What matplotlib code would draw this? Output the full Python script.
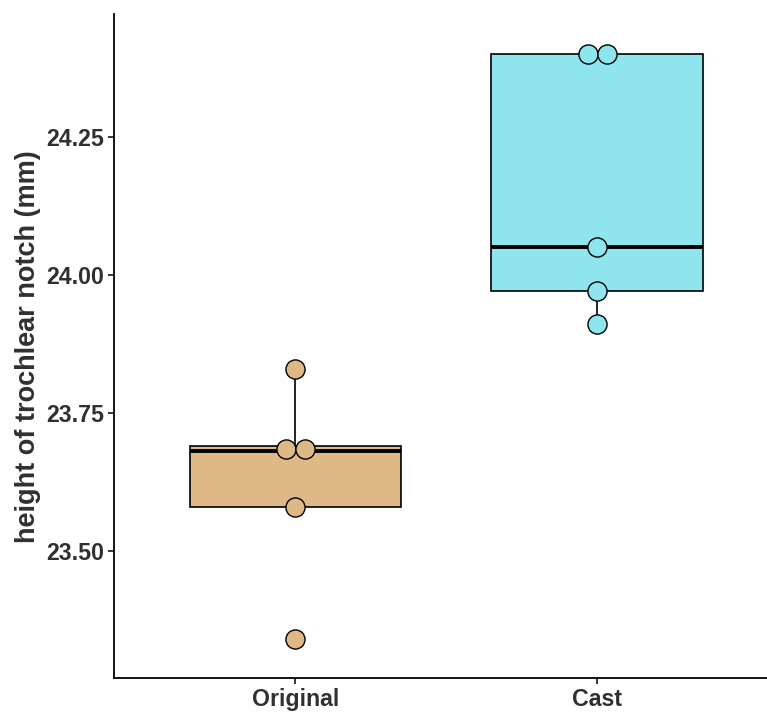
import matplotlib
matplotlib.use("Agg")
import matplotlib.pyplot as plt
import numpy as np


GROUPS = ["Original", "Cast"]
ORIGINAL = [23.34, 23.58, 23.68, 23.69, 23.83]
CAST = [23.91, 23.97, 24.05, 24.40, 24.40]
FILLS = {"Original": "#DEB887", "Cast": "#8EE5EE"}
Y_TICKS = [23.50, 23.75, 24.00, 24.25]
Y_LABEL = "height of trochlear notch (mm)"

TEXT_COLOR = "#303030"
BIN_WIDTH = 0.02
DOT_STEP = 0.064  # one dot diameter in x data units


def dot_positions(values, center):
    # crude dotplot: bin close values, stack them side by side at the bin mean
    vals = sorted(values)
    bins = []
    for v in vals:
        if bins and v - bins[-1][0] < BIN_WIDTH:
            bins[-1].append(v)
        else:
            bins.append([v])
    xs, ys = [], []
    for b in bins:
        n = len(b)
        y = float(np.mean(b))
        for i in range(n):
            xs.append(center + (i - (n - 1) / 2) * DOT_STEP)
            ys.append(y)
    return xs, ys


plt.rcParams["font.family"] = ["Liberation Sans", "DejaVu Sans"]
plt.rcParams["font.weight"] = "bold"

fig = plt.figure(figsize=(7.67, 7.14), dpi=100)
ax = fig.add_axes([114 / 767, 0.050, 653 / 767, 0.930])

data = [ORIGINAL, CAST]
positions = np.arange(1, len(GROUPS) + 1)

bp = ax.boxplot(
    data,
    positions=positions,
    widths=0.7,
    whis=1.5,
    patch_artist=True,
    showfliers=False,
    showcaps=False,
    zorder=2,
    boxprops=dict(edgecolor="black", linewidth=1.2),
    whiskerprops=dict(color="black", linewidth=1.2),
    medianprops=dict(color="black", linewidth=2.8, solid_capstyle="butt"),
)
for patch, name in zip(bp["boxes"], GROUPS):
    patch.set_facecolor(FILLS[name])

for pos, vals, name in zip(positions, data, GROUPS):
    xs, ys = dot_positions(vals, pos)
    ax.scatter(xs, ys, s=190, facecolor=FILLS[name], edgecolor="black",
               linewidth=1.0, zorder=3)

ax.set_xlim(0.4, 0.4 + 653 / 302)
ax.set_ylim(23.269, 24.472)
ax.set_xticks(positions)
ax.set_xticklabels(GROUPS)
ax.set_yticks(Y_TICKS)
ax.set_yticklabels([f"{t:.2f}" for t in Y_TICKS])
ax.set_ylabel(Y_LABEL, fontsize=19.5, fontweight="bold", color=TEXT_COLOR, labelpad=4)

ax.tick_params(axis="both", labelsize=16.7, colors=TEXT_COLOR, length=4, width=1.1,
               pad=3)
ax.tick_params(axis="both", color="black")
for lab in ax.get_xticklabels() + ax.get_yticklabels():
    lab.set_fontweight("bold")

for side in ["top", "right"]:
    ax.spines[side].set_visible(False)
for side in ["left", "bottom"]:
    ax.spines[side].set_linewidth(1.3)
    ax.spines[side].set_color("black")

fig.savefig("out.png", dpi=100)
plt.close(fig)
